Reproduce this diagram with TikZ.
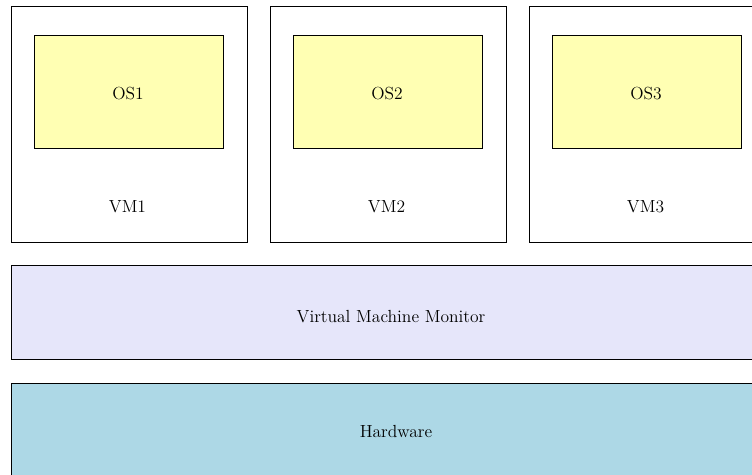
\documentclass[tikz,border=0pt]{standalone}
\definecolor{osfill}{RGB}{255,255,179}
\definecolor{vmmfill}{RGB}{230,230,250}
\definecolor{hwfill}{RGB}{173,216,230}
\begin{document}
\begin{tikzpicture}[x=0.685pt,y=-0.685pt,
  every node/.style={font=\large},
  vmbox/.style={draw,minimum width=236*0.685pt,minimum height=236*0.685pt,anchor=north west,inner sep=0pt},
  osbox/.style={draw,fill=osfill,minimum width=189*0.685pt,minimum height=113*0.685pt,anchor=north west,inner sep=0pt},
  layer/.style={draw,minimum width=780*0.685pt,minimum height=94*0.685pt,anchor=north west,inner sep=0pt}]
\useasboundingbox (0,0) rectangle (752,474);
\clip (0,0) rectangle (752,474);
% virtual machines with their guest operating systems
\foreach \i/\x in {1/10.5,2/269.5,3/528.5}{
  \node[vmbox] (vm\i) at (\x,5.5) {};
  \node[inner sep=0pt] (vml\i) at (\x+117,206.5) {VM\i};
  \node[osbox] (os\i) at (\x+23,34.5) {};
  \node[inner sep=0pt] (osl\i) at (\x+117.5,94) {OS\i};
}
% hypervisor and hardware layers
\node[layer,fill=vmmfill] (vmm) at (10.5,264.5) {};
\node[inner sep=0pt] (vmml) at (391,317) {Virtual Machine Monitor};
\node[layer,fill=hwfill] (hw) at (10.5,382.5) {};
\node[inner sep=0pt] (hwl) at (396,431) {Hardware};
\end{tikzpicture}
\end{document}
